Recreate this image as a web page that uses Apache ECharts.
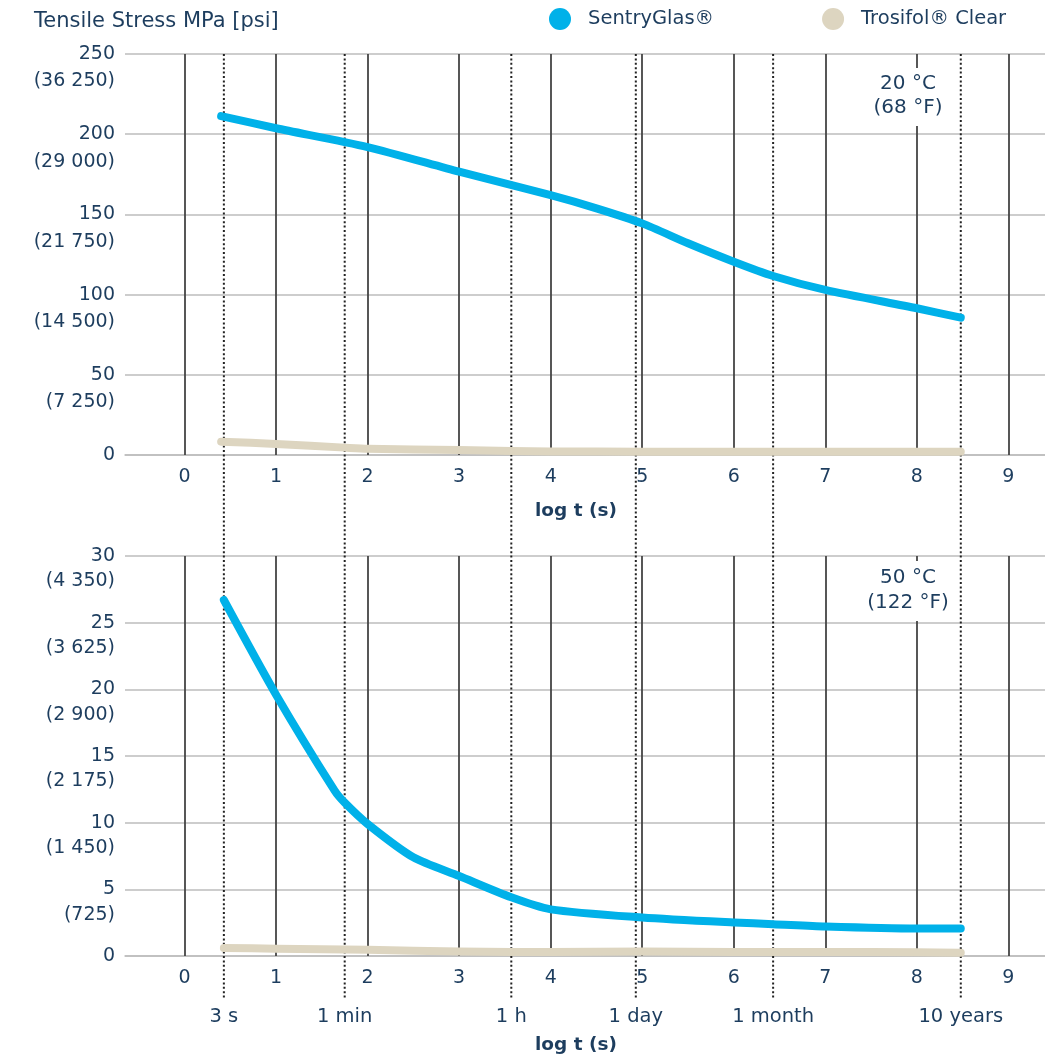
<!DOCTYPE html>
<html>
<head>
<meta charset="utf-8">
<script src="https://cdn.jsdelivr.net/npm/echarts@6/dist/echarts.min.js"></script>
<style>html,body{margin:0;padding:0;background:#fff}#c{width:1045px;height:1061px}</style>
</head>
<body>
<div id="c"></div>
<script>
// ---- data ----
const xTicks = [0, 1, 2, 3, 4, 5, 6, 7, 8, 9];
const timeX = [0.43, 1.75, 3.57, 4.93, 6.43, 8.48];
const timeLabels = ['3 s', '1 min', '1 h', '1 day', '1 month', '10 years'];

const topYTicks = [0, 50, 100, 150, 200, 250];
const topPsi = ['', '(7 250)', '(14 500)', '(21 750)', '(29 000)', '(36 250)'];
const botYTicks = [0, 5, 10, 15, 20, 25, 30];
const botPsi = ['', '(725)', '(1 450)', '(2 175)', '(2 900)', '(3 625)', '(4 350)'];

// 20 °C
const topSgX = [0.4, 1, 2, 3, 4, 4.5, 5, 5.5, 6, 6.43, 7, 8, 8.48];
const topSgY = [211.3, 203.7, 192, 176.6, 162, 153.8, 144.4, 132, 120.5, 111.6, 102.9, 91.5, 85.6];
const topTrX = [0.4, 1, 1.75, 2, 3, 3.57, 4, 5, 6, 7, 8, 8.48];
const topTrY = [8.3, 6.9, 4.6, 3.9, 3.1, 2.5, 2.2, 2.1, 2.1, 2.1, 2.1, 2.1];

// 50 °C
const botSgX = [0.43, 1, 1.64, 1.75, 2, 2.5, 3, 3.57, 4, 5, 6, 6.43, 7, 8, 8.48];
const botSgY = [26.7, 19.6, 12.4, 11.5, 9.9, 7.4, 6.0, 4.4, 3.5, 2.89, 2.51, 2.39, 2.21, 2.06, 2.06];
const botTrX = [0.43, 1, 2, 3, 3.57, 4, 5, 6, 7, 8, 8.48];
const botTrY = [0.6, 0.55, 0.46, 0.34, 0.3, 0.3, 0.33, 0.3, 0.3, 0.28, 0.25];

// ---- styles ----
const NAVY = '#1d3d5e';
const BLUE = '#00b1e9';
const BEIGE = '#ddd5c0';
const FONT = 'DejaVu Sans';
const FS = 19;
const pairs = (xs, ys) => xs.map((x, i) => [x, ys[i]]);

function xAxisBase(grid) {
  return {
    type: 'value', gridIndex: grid, min: -0.65, max: 9.4,
    axisLine: { show: true, lineStyle: { color: '#bdbdbd', width: 1.5 } },
    axisTick: { show: false },
    splitLine: { show: false },
    axisLabel: { customValues: xTicks, color: NAVY, fontSize: FS, fontFamily: FONT, margin: 13,
                 formatter: v => String(Math.round(v)) }
  };
}

function yAxisMain(grid, max, step) {
  return {
    type: 'value', gridIndex: grid, min: 0, max: max, interval: step,
    axisLine: { show: false }, axisTick: { show: false },
    splitLine: { show: true, lineStyle: { color: '#bdbdbd', width: 1.5 } },
    axisLabel: { margin: 10, color: NAVY, fontSize: FS, fontFamily: FONT, verticalAlign: 'middle',
                 showMaxLabel: true, showMinLabel: true, hideOverlap: false }
  };
}

function yAxisPsi(grid, max, step, ticks, psi, lh) {
  return {
    type: 'value', gridIndex: grid, min: 0, max: max, interval: step, position: 'left',
    axisLine: { show: false }, axisTick: { show: false }, splitLine: { show: false },
    axisLabel: { margin: 10, color: NAVY, fontSize: FS, fontFamily: FONT, verticalAlign: 'top', lineHeight: lh,
                 showMaxLabel: true, showMinLabel: true, hideOverlap: false,
                 formatter: v => { const i = ticks.indexOf(v); return i > 0 ? psi[i] : ''; } }
  };
}

function vLines(xi, yi) {
  return {
    type: 'line', xAxisIndex: xi, yAxisIndex: yi, data: [], silent: true, z: 1,
    markLine: {
      silent: true, symbol: 'none', animation: false,
      label: { show: false },
      lineStyle: { color: '#444', width: 1.8, type: 'solid' },
      data: xTicks.map(v => ({ xAxis: v }))
    }
  };
}

function curve(name, xi, yi, data, color) {
  return {
    name: name, type: 'line', xAxisIndex: xi, yAxisIndex: yi, data: data,
    smooth: 0.25, showSymbol: false, symbol: 'none', z: 5,
    lineStyle: { color: color, width: 8, cap: 'round', join: 'round' },
    itemStyle: { color: color }
  };
}

const option = {
  animation: false,
  backgroundColor: '#fff',
  textStyle: { fontFamily: FONT },
  title: {
    text: 'Tensile Stress MPa [psi]', left: 29, top: 6,
    textStyle: { fontSize: 21, fontWeight: 'normal', color: NAVY, fontFamily: FONT }
  },
  legend: {
    left: 549, top: 8, padding: 0, itemWidth: 22, itemHeight: 22, itemGap: 108, icon: 'circle',
    data: ['SentryGlas®', 'Trosifol® Clear'],
    textStyle: { fontSize: 19.5, color: NAVY, fontFamily: FONT, padding: [0, 0, 0, 12] }
  },
  grid: [
    { left: 125, right: 0, top: 54, height: 401 },
    { left: 125, right: 0, top: 556, height: 400 }
  ],
  xAxis: [
    Object.assign(xAxisBase(0), {
      name: 'log t (s)', nameLocation: 'middle', nameGap: 47,
      nameTextStyle: { fontSize: 18.5, fontWeight: 'bold', color: NAVY, fontFamily: FONT, padding: [0, 18, 0, 0] }
    }),
    xAxisBase(1),
    {
      type: 'value', gridIndex: 1, min: -0.65, max: 9.4, position: 'bottom',
      axisLine: { show: false }, axisTick: { show: false }, splitLine: { show: false },
      axisLabel: {
        customValues: timeX, color: NAVY, fontSize: 19.5, fontFamily: FONT, margin: 51,
        formatter: v => { let b = 0; timeX.forEach((t, i) => { if (Math.abs(t - v) < Math.abs(timeX[b] - v)) b = i; }); return timeLabels[b]; }
      },
      name: 'log t (s)', nameLocation: 'middle', nameGap: 80,
      nameTextStyle: { fontSize: 18.5, fontWeight: 'bold', color: NAVY, fontFamily: FONT, padding: [0, 18, 0, 0] }
    }
  ],
  yAxis: [
    yAxisMain(0, 250, 50),
    yAxisPsi(0, 250, 50, topYTicks, topPsi, 55),
    yAxisMain(1, 30, 5),
    yAxisPsi(1, 30, 5, botYTicks, botPsi, 51)
  ],
  series: [
    vLines(0, 0),
    vLines(1, 2),
    {
      type: 'custom', xAxisIndex: 0, yAxisIndex: 0, silent: true, clip: false, z: 2,
      data: timeX.map(v => [v, 250]),
      renderItem: function (params, api) {
        const p = api.coord([api.value(0), api.value(1)]);
        return {
          type: 'line',
          shape: { x1: p[0], y1: p[1], x2: p[0], y2: 998 },
          style: { stroke: '#222', lineWidth: 2, lineDash: [2, 2.4] }
        };
      }
    },
    curve('Trosifol® Clear', 0, 0, pairs(topTrX, topTrY), BEIGE),
    curve('SentryGlas®', 0, 0, pairs(topSgX, topSgY), BLUE),
    curve('Trosifol® Clear', 1, 2, pairs(botTrX, botTrY), BEIGE),
    curve('SentryGlas®', 1, 2, pairs(botSgX, botSgY), BLUE)
  ],
  graphic: [
    { type: 'text', x: 908, y: 68, z: 100,
      style: { text: '20 °C\n(68 °F)', fill: NAVY, font: '20px "' + FONT + '"', lineHeight: 24, align: 'center',
               verticalAlign: 'top', backgroundColor: '#fff', padding: [4, 6, 6, 6] } },
    { type: 'text', x: 908, y: 561, z: 100,
      style: { text: '50 °C\n(122 °F)', fill: NAVY, font: '20px "' + FONT + '"', lineHeight: 25, align: 'center',
               verticalAlign: 'top', backgroundColor: '#fff', padding: [4, 6, 6, 6] } }
  ]
};

const chart = echarts.init(document.getElementById('c'), null, { renderer: 'canvas' });
chart.setOption(option);
</script>
</body>
</html>
